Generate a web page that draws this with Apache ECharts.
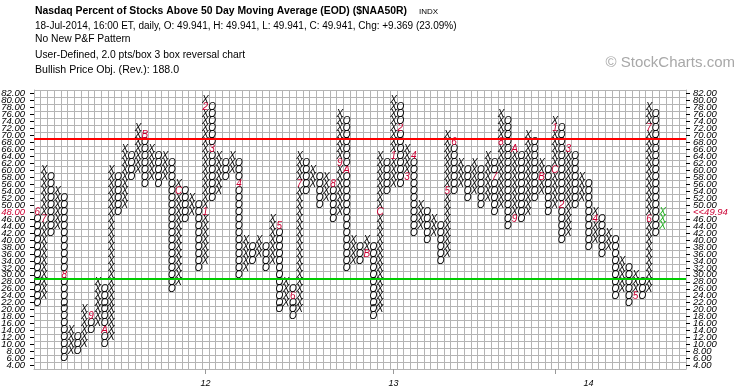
<!DOCTYPE html>
<html><head><meta charset="utf-8">
<script src="https://cdn.jsdelivr.net/npm/echarts@6/dist/echarts.min.js"></script>
<style>html,body{margin:0;padding:0;background:#fff}#c{width:745px;height:391px}</style>
</head><body><div id="c"></div>
<script>
// P&F columns (2 pts/box): type, lowest box, highest box
const colType = ['O','X','O','X','O','X','O','X','O','X','O','X','O','X','O','X','O','X','O','X',
                 'O','X','O','X','O','X','O','X','O','X','O','X','O','X','O','X','O','X','O','X',
                 'O','X','O','X','O','X','O','X','O','X','O','X','O','X','O','X','O','X','O','X',
                 'O','X','O','X','O','X','O','X','O','X','O','X','O','X','O','X','O','X','O','X',
                 'O','X','O','X','O','X','O','X','O','X','O','X','O','X'];
const colLow  = [22,24,42,44, 6, 8, 8,10,14,16,10,12,48,50,58,60,56,58,56,58,
                 26,28,46,48,32,34,52,54,58,60,30,32,34,36,32,34,20,22,18,20,
                 54,56,50,52,46,48,32,34,34,36,18,20,54,56,56,58,42,44,40,42,
                 34,36,54,56,52,54,50,52,48,50,44,46,46,48,52,54,48,50,40,42,
                 50,52,38,40,36,38,24,26,22,24,24,26,42,44];
const colHigh = [48,60,58,54,52,14,12,20,18,28,26,60,58,66,64,72,70,66,64,64,
                 62,56,54,52,50,80,78,64,62,64,62,40,38,40,38,46,44,28,26,64,
                 62,60,58,58,56,76,74,40,38,40,38,64,62,80,78,66,64,50,48,46,
                 44,70,68,62,60,62,60,64,62,76,74,66,64,70,68,62,60,74,72,66,
                 64,58,56,48,46,42,40,34,32,30,28,78,76,48];
// month markers (column, box, label)
const markCol = [0,1,4,8,10,16,21,25,25,26,30,36,38,39,44,45,46,49,51,53,54,55,56,61,62,68,69,71,71,75,77,77,78,79,83,89,91,91];
const markVal = [48,46,30,18,14,70,54,48,78,66,56,44,24,56,56,62,60,36,48,64,72,58,64,54,68,58,68,46,66,58,60,72,50,66,46,24,46,72];
const markTxt = ['6','7','8','9','A','B','C','1','2','3','4','5','6','7','8','9','A','B','C','1','2','3','4','5','6','7','8','9','A','B','C','1','2','3','4','5','6','7'];
const currentCol = 93;
const yearTickCol = [25,53,77];
const yearLabelCol = [25,53,82];
const yearTxt = ['12','13','14'];
const yLabels = [4,6,8,10,12,14,16,18,20,22,24,26,28,30,32,34,36,38,40,42,44,46,48,50,52,54,56,58,60,62,64,66,68,70,72,74,76,78,80,82];
const lastValue = 49.94;
const lastBox = 48;
const upperLine = 69, lowerLine = 29;
const X_MIN = 0, X_MAX = 97;

const boxes = [];
colType.forEach((t, k) => {
  for (let v = colLow[k]; v <= colHigh[k]; v += 2) {
    const mi = markCol.findIndex((c, i) => c === k && markVal[i] === v);
    boxes.push([k + 0.5, v, mi >= 0 ? markTxt[mi] : t, mi >= 0 ? 'm' : (k === currentCol ? 'g' : 'n')]);
  }
});
const labelRows = yLabels.map(v => [X_MIN, v]);
const RED = '#cc0033';
const lblFont = 'italic 9.5px "Liberation Sans"';

const chart = echarts.init(document.getElementById('c'));
chart.setOption({
  animation: false,
  grid: {left: 34, right: 59, top: 90, bottom: 22},
  xAxis: [
    {type: 'value', min: X_MIN, max: X_MAX, interval: 1,
      splitLine: {show: true, lineStyle: {color: '#b4b4b4', width: 1}},
      axisLine: {show: true, lineStyle: {color: '#b4b4b4'}},
      axisTick: {show: false}, axisLabel: {show: false}},
    {type: 'value', min: X_MIN, max: X_MAX, position: 'bottom',
      splitLine: {show: false}, axisLine: {show: false},
      axisTick: {show: true, customValues: yearTickCol.map(c => c + 0.5), length: 5, lineStyle: {color: '#999'}},
      axisLabel: {customValues: yearLabelCol.map(c => c + 0.5),
        formatter: v => yearTxt[yearLabelCol.indexOf(v - 0.5)], color: '#000', margin: 10,
        fontSize: 9, fontStyle: 'italic', fontFamily: 'Liberation Sans'}}
  ],
  yAxis: [
    {type: 'value', min: 3, max: 83, interval: 2, position: 'left',
      splitLine: {show: true, lineStyle: {color: '#b4b4b4', width: 1}},
      axisLine: {show: true, lineStyle: {color: '#b4b4b4'}},
      axisTick: {show: false}, axisLabel: {show: false}},
    {type: 'value', min: 3, max: 83, position: 'left',
      splitLine: {show: false}, axisLine: {show: false},
      axisTick: {show: true, customValues: yLabels, length: 4, lineStyle: {color: '#000'}},
      axisLabel: {show: false}},
    {type: 'value', min: 3, max: 83, position: 'right',
      splitLine: {show: false}, axisLine: {show: true, lineStyle: {color: '#b4b4b4'}},
      axisTick: {show: true, customValues: yLabels, length: 4, lineStyle: {color: '#000'}},
      axisLabel: {show: false}}
  ],
  series: [{
    type: 'custom', data: boxes, clip: true, xAxisIndex: 0, yAxisIndex: 0,
    renderItem: (params, api) => {
      const p = api.coord([api.value(0), api.value(1)]);
      const d = boxes[params.dataIndex];
      const col = d[3] === 'm' ? RED : (d[3] === 'g' ? '#1fae1f' : '#000');
      return {type: 'text', x: p[0], y: p[1], style: {text: d[2], fill: col, align: 'center', verticalAlign: 'middle',
        font: 'italic 10px "Liberation Sans"'}};
    },
    markLine: {silent: true, symbol: 'none', label: {show: false},
      data: [{yAxis: upperLine, lineStyle: {color: '#ff0000', width: 2, type: 'solid'}},
             {yAxis: lowerLine, lineStyle: {color: '#00cc00', width: 2, type: 'solid'}}]}
  }, {
    // price-scale labels on both sides, placed through the axis scale
    type: 'custom', data: labelRows, clip: false, xAxisIndex: 0, yAxisIndex: 0, silent: true,
    renderItem: (params, api) => {
      const v = api.value(1);
      const pl = api.coord([X_MIN, v]);
      const pr = api.coord([X_MAX, v]);
      const isLast = v === lastBox;
      return {type: 'group', children: [
        {type: 'text', x: pl[0] - 9, y: pl[1], style: {text: v.toFixed(2), align: 'right', verticalAlign: 'middle',
          font: lblFont, fill: isLast ? RED : '#000'}},
        {type: 'text', x: pr[0] + 7, y: pr[1], style: {text: isLast ? '<<' + lastValue.toFixed(2) : v.toFixed(2),
          align: 'left', verticalAlign: 'middle', font: lblFont, fill: isLast ? RED : '#000'}}
      ]};
    }
  }],
  graphic: [
    {type: 'text', left: 35, top: 5, scaleX: 0.905, style: {text: 'Nasdaq Percent of Stocks Above 50 Day Moving Average (EOD) ($NAA50R)', font: 'bold 11.5px "Liberation Sans"', fill: '#000'}},
    {type: 'text', left: 419, top: 8, style: {text: 'INDX', font: '8px "Liberation Sans"', fill: '#000'}},
    {type: 'text', left: 35, top: 21, style: {text: '18-Jul-2014, 16:00 ET, daily, O: 49.941, H: 49.941, L: 49.941, C: 49.941, Chg: +9.369 (23.09%)', font: '10px "Liberation Sans"', fill: '#000'}},
    {type: 'text', left: 35, top: 34, style: {text: 'No New P&F Pattern', font: '10.3px "Liberation Sans"', fill: '#000'}},
    {type: 'text', left: 35, top: 50, style: {text: 'User-Defined, 2.0 pts/box 3 box reversal chart', font: '10.3px "Liberation Sans"', fill: '#000'}},
    {type: 'text', left: 35, top: 65, style: {text: 'Bullish Price Obj. (Rev.): 188.0', font: '10.6px "Liberation Sans"', fill: '#000'}},
    {type: 'text', right: 10, top: 55, style: {text: '© StockCharts.com', font: '15px "Liberation Sans"', fill: '#a8a8a8'}}
  ]
});
</script></body></html>
